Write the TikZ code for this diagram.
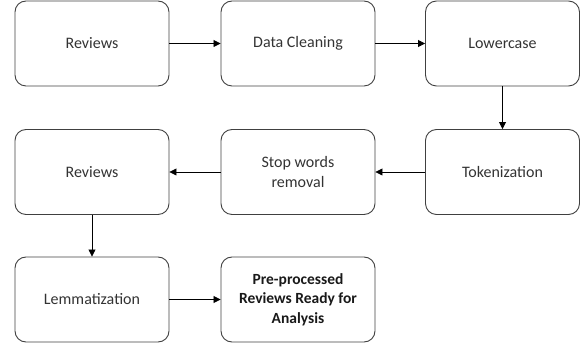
\documentclass[tikz,border=0pt]{standalone}
\usepackage{fontspec}
\setmainfont{Carlito}
\usetikzlibrary{arrows.meta}
\begin{document}
\begin{tikzpicture}[x=1pt,y=-1pt,
  stepbox/.style={draw=black!75, line width=0.9pt, rounded corners=11pt,
    minimum width=154pt, minimum height=85pt, align=center,
    text=black!80, font=\fontsize{16}{19.5}\selectfont, inner sep=2pt},
  flow/.style={draw=black, line width=0.8pt, -{Triangle[length=7pt,width=7pt]}}]
  \useasboundingbox (0,0) rectangle (582,347);
  % first row
  \node[stepbox] (rev1)  at (92,43.5)  {Reviews};
  \node[stepbox] (clean) at (298,43.5) {Data Cleaning};
  \node[stepbox] (lower) at (502.5,43.5) {Lowercase};
  % second row
  \node[stepbox] (rev2)  at (92,172)   {Reviews};
  \node[stepbox] (stop)  at (298,172)  {Stop words\\removal};
  \node[stepbox] (token) at (502.5,172) {Tokenization};
  % third row
  \node[stepbox] (lemma) at (92,299.5) {Lemmatization};
  \node[stepbox, text=black!90, font=\fontsize{15.5}{19.5}\selectfont\bfseries] (ready) at (298,299.5)
    {Pre-processed\\Reviews Ready for\\Analysis};
  % connectors
  \draw[flow] (rev1) -- (clean);
  \draw[flow] (clean) -- (lower);
  \draw[flow] (lower) -- (token);
  \draw[flow] (token) -- (stop);
  \draw[flow] (stop) -- (rev2);
  \draw[flow] (rev2) -- (lemma);
  \draw[flow] (lemma) -- (ready);
\end{tikzpicture}
\end{document}
